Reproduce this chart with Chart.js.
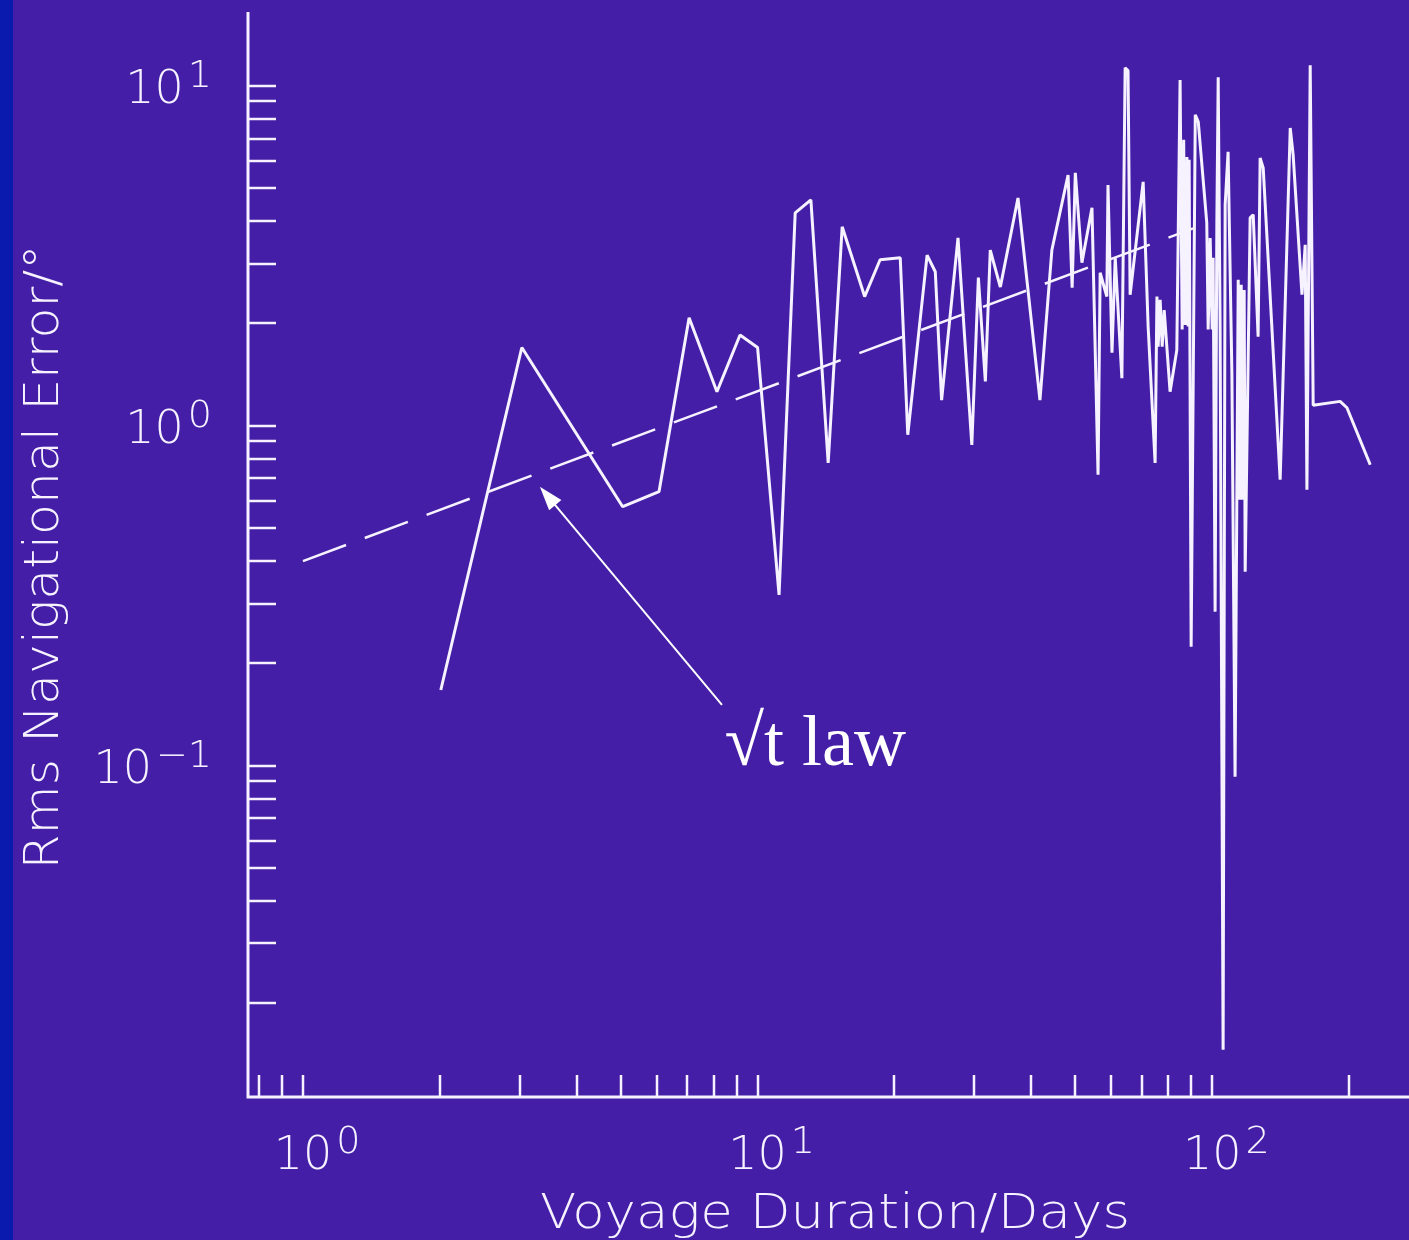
<!DOCTYPE html>
<html>
<head>
<meta charset="utf-8">
<script src="https://cdn.jsdelivr.net/npm/chart.js@4.4.1/dist/chart.umd.min.js"></script>
<style>
  html, body { margin: 0; padding: 0; background: #441ea6; }
  canvas { display: block; }
</style>
</head>
<body>
<canvas id="chart" width="1409" height="1240"></canvas>
<script>
// Voyage records (days vs rms error in degrees)
const voyageDays = [
    2.01, 3.03, 5.05, 6.07, 7.07, 8.14, 9.15, 10.0, 11.15, 12.1,
    13.1, 14.3, 15.35, 17.2, 18.6, 20.6, 21.4, 23.6, 24.6, 25.4,
    27.6, 29.6, 30.6, 31.7, 32.5, 34.2, 37.4, 41.8, 44.4, 48.2,
    49.2, 50.0, 51.7, 54.4, 56.1, 56.7, 58.65, 59.0, 60.2, 61.2,
    63.3, 64.35, 65.3, 66.0, 70.5, 72.3, 74.9, 75.6, 76.06, 76.84,
    77.63, 78.42, 80.8, 83.6, 85.0, 85.9, 86.56, 87.22, 88.0, 88.56,
    89.0, 89.9, 91.8, 93.2, 97.3, 97.99, 98.99, 100.0, 100.5, 101.5,
    102.4, 103.1, 104.1, 105.7, 106.8, 108.4, 110.5, 112.3, 114.1, 114.98,
    115.85, 116.73, 117.6, 118.2, 121.2, 123.1, 126.2, 127.5, 129.5, 141.1,
    148.5, 150.7, 157.6, 160.2, 161.6, 164.3, 166.8, 191.2, 197.9, 222.7
];
const rmsError = [
    0.167, 1.70, 0.578, 0.640, 2.08, 1.26, 1.85, 1.70, 0.318, 4.23,
    4.62, 0.778, 3.85, 2.40, 3.08, 3.12, 0.941, 3.18, 2.84, 1.19,
    3.57, 0.879, 2.73, 1.35, 3.29, 2.56, 4.68, 1.19, 3.29, 5.47,
    2.55, 5.55, 3.02, 4.38, 0.718, 2.82, 2.40, 5.11, 1.64, 3.12,
    1.38, 11.3, 11.1, 2.43, 5.22, 1.96, 0.778, 2.40, 1.71, 2.35,
    1.71, 2.19, 1.26, 1.67, 10.4, 1.92, 6.94, 1.98, 6.18, 1.96,
    6.06, 0.224, 8.22, 7.84, 3.96, 1.92, 3.57, 1.92, 3.12, 0.284,
    3.98, 10.6, 1.94, 0.0146, 4.47, 6.40, 1.43, 0.0928, 2.69, 0.606,
    2.60, 0.606, 2.51, 0.372, 4.09, 4.18, 1.83, 6.14, 5.74, 0.694,
    7.52, 6.27, 2.43, 3.41, 0.648, 11.5, 1.15, 1.18, 1.13, 0.768
];

// sqrt(t) law reference line end points
const lawDays = [1, 90.8];
const lawError = [0.4, 3.81];

// axes
const xRange = [0.757, 271];
const yRange = [0.0106, 16.5];
const xTickValues = [0.8, 0.9, 1, 2, 3, 4, 5, 6, 7, 8, 9, 10, 20, 30, 40, 50, 60, 70, 80, 90, 100, 200];
const yTickValues = [0.02, 0.03, 0.04, 0.05, 0.06, 0.07, 0.08, 0.09,
    0.1, 0.2, 0.3, 0.4, 0.5, 0.6, 0.7, 0.8, 0.9,
    1, 2, 3, 4, 5, 6, 7, 8, 9, 10];
const xLabelValues = [1, 10, 100];
const xLabelExps = ['0', '1', '2'];
const yLabelValues = [0.1, 1, 10];
const yLabelExps = ['\u22121', '0', '1'];

const xTitle = 'Voyage Duration/Days';
const yTitle = 'Rms Navigational Error/\u00b0';

// annotation anchors (data space)
const noteText = '\u221at law';
const noteArrowTip = [3.32, 0.662];
const noteArrowTail = [8.35, 0.151];
const noteTextAt = [8.46, 0.1007];

const FG = '#f6f2ff';
const BG = '#441ea6';
const TICK_FONT = '200 46px "DejaVu Sans"';
const SUP_FONT = '200 38px "DejaVu Sans"';

const framePlugin = {
    id: 'frame',
    beforeDraw(chart) {
        const ctx = chart.ctx;
        ctx.save();
        ctx.fillStyle = BG;
        ctx.fillRect(0, 0, chart.width, chart.height);
        ctx.fillStyle = '#0a19ae';
        ctx.fillRect(0, 0, 13, chart.height);
        ctx.restore();
    },
    beforeDatasetsDraw(chart) {
        const { ctx, chartArea: area, scales: { x, y } } = chart;
        ctx.save();
        ctx.strokeStyle = FG;
        ctx.fillStyle = FG;
        ctx.lineWidth = 3;
        ctx.lineCap = 'butt';

        // axis lines
        ctx.beginPath();
        ctx.moveTo(area.left, area.top);
        ctx.lineTo(area.left, area.bottom);
        ctx.lineTo(chart.width, area.bottom);
        ctx.stroke();

        // inward ticks
        ctx.lineWidth = 2.5;
        ctx.beginPath();
        yTickValues.forEach(v => {
            const py = Math.round(y.getPixelForValue(v));
            ctx.moveTo(area.left, py);
            ctx.lineTo(area.left + 28, py);
        });
        xTickValues.forEach(v => {
            const px = Math.round(x.getPixelForValue(v));
            ctx.moveTo(px, area.bottom);
            ctx.lineTo(px, area.bottom - 22);
        });
        ctx.stroke();

        // y tick labels: "10" centred on tick, exponent raised, right aligned
        ctx.textBaseline = 'alphabetic';
        ctx.textAlign = 'left';
        yLabelValues.forEach((v, i) => {
            const py = y.getPixelForValue(v);
            ctx.font = SUP_FONT;
            const we = ctx.measureText(yLabelExps[i]).width;
            ctx.font = TICK_FONT;
            const wb = ctx.measureText('10').width;
            const right = area.left - 36;
            ctx.fillText('10', right - we - 4 - wb, py + 17);
            ctx.font = SUP_FONT;
            ctx.fillText(yLabelExps[i], right - we, py + 1);
        });

        // x tick labels
        xLabelValues.forEach((v, i) => {
            const px = x.getPixelForValue(v);
            ctx.font = TICK_FONT;
            const wb = ctx.measureText('10').width;
            ctx.fillText('10', px - wb / 2, area.bottom + 72);
            ctx.font = SUP_FONT;
            ctx.fillText(xLabelExps[i], px + wb / 2 + 4, area.bottom + 56);
        });

        // axis titles
        ctx.font = '200 48px "DejaVu Sans"';
        ctx.textAlign = 'center';
        let w = ctx.measureText(xTitle).width;
        ctx.save();
        ctx.translate(835, area.bottom + 131);
        ctx.scale(590 / w, 1);
        ctx.fillText(xTitle, 0, 0);
        ctx.restore();

        w = ctx.measureText(yTitle).width;
        ctx.save();
        ctx.translate(58, 557);
        ctx.rotate(-Math.PI / 2);
        ctx.scale(625 / w, 1);
        ctx.fillText(yTitle, 0, 0);
        ctx.restore();

        ctx.restore();
    },
    afterDatasetsDraw(chart) {
        const { ctx, scales: { x, y } } = chart;
        const tx = x.getPixelForValue(noteArrowTip[0]);
        const ty = y.getPixelForValue(noteArrowTip[1]);
        const sx = x.getPixelForValue(noteArrowTail[0]);
        const sy = y.getPixelForValue(noteArrowTail[1]);
        const ang = Math.atan2(ty - sy, tx - sx);
        ctx.save();
        ctx.strokeStyle = '#ffffff';
        ctx.fillStyle = '#ffffff';
        ctx.lineWidth = 2;
        ctx.beginPath();
        ctx.moveTo(sx, sy);
        ctx.lineTo(tx - 20 * Math.cos(ang), ty - 20 * Math.sin(ang));
        ctx.stroke();
        const len = 24, half = 8;
        ctx.beginPath();
        ctx.moveTo(tx, ty);
        ctx.lineTo(tx - len * Math.cos(ang) + half * Math.sin(ang), ty - len * Math.sin(ang) - half * Math.cos(ang));
        ctx.lineTo(tx - len * Math.cos(ang) - half * Math.sin(ang), ty - len * Math.sin(ang) + half * Math.cos(ang));
        ctx.closePath();
        ctx.fill();

        ctx.font = '72px "Liberation Serif"';
        ctx.textAlign = 'left';
        ctx.textBaseline = 'alphabetic';
        ctx.fillText(noteText, x.getPixelForValue(noteTextAt[0]), y.getPixelForValue(noteTextAt[1]));
        ctx.restore();
    }
};

const voyagePoints = voyageDays.map((d, i) => ({ x: d, y: rmsError[i] }));
const lawPoints = lawDays.map((d, i) => ({ x: d, y: lawError[i] }));

new Chart(document.getElementById('chart'), {
    type: 'line',
    data: {
        datasets: [
            {
                data: voyagePoints,
                borderColor: FG,
                borderWidth: 3,
                borderJoinStyle: 'bevel',
                pointRadius: 0,
                tension: 0,
                fill: false
            },
            {
                data: lawPoints,
                borderColor: FG,
                borderWidth: 2.5,
                borderDash: [46, 20],
                pointRadius: 0,
                tension: 0,
                fill: false
            }
        ]
    },
    options: {
        responsive: false,
        animation: false,
        layout: { padding: { left: 248, top: 12, right: 0, bottom: 143 } },
        plugins: {
            legend: { display: false },
            tooltip: { enabled: false }
        },
        scales: {
            x: { type: 'logarithmic', min: xRange[0], max: xRange[1], display: false },
            y: { type: 'logarithmic', min: yRange[0], max: yRange[1], display: false }
        }
    },
    plugins: [framePlugin]
});
</script>
</body>
</html>
